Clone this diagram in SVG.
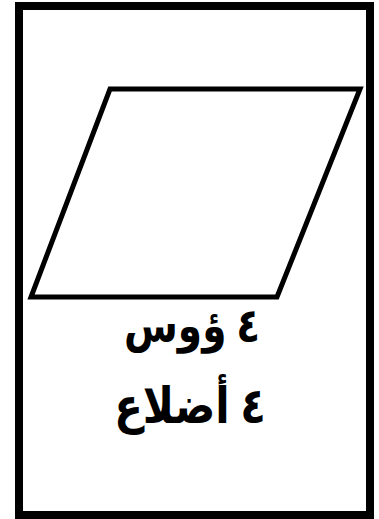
<svg xmlns="http://www.w3.org/2000/svg" width="379" height="519" viewBox="0 0 379 519">
<style>
.lbl{font-family:"Times New Roman","Liberation Serif","DejaVu Sans",serif;font-weight:bold;font-size:42px;fill:#000;text-anchor:middle}
</style>
<rect x="0" y="0" width="379" height="519" fill="#fff"/>
<g id="frame"><rect x="19" y="6" width="351" height="509" fill="none" stroke="#000" stroke-width="8"/></g>
<g id="parallelogram"><polygon points="110,89 360,89 277,297 31,297" fill="none" stroke="#000" stroke-width="5"/></g>
<g id="labels">
<text class="lbl" x="0" y="0" direction="rtl" transform="translate(192 342) scale(0.93 1.12)">٤ ؤوس</text>
<text class="lbl" x="0" y="0" direction="rtl" transform="translate(190 423) scale(1 1.18)">٤ أضلاع</text>
</g>
</svg>
